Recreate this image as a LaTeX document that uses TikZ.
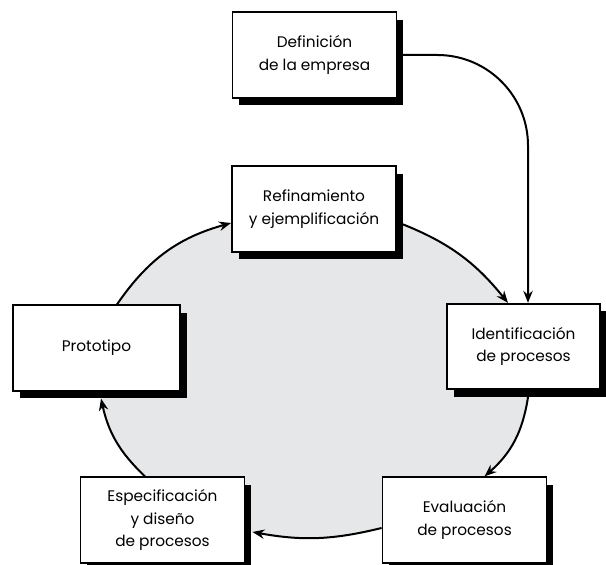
\documentclass[tikz,border=0pt]{standalone}
\usepackage{fontspec}
\setmainfont{Poppins}
\usetikzlibrary{calc,arrows.meta,shadows,backgrounds}

\definecolor{cyclegray}{RGB}{230,231,232}

\begin{document}
\begin{tikzpicture}[x=0.75pt, y=0.75pt, font=\fontsize{11.5}{17}\selectfont,
	procbox/.style={draw=black, line width=1.4pt, fill=white, inner sep=0pt,
		minimum width=123pt, minimum height=64pt, align=center,
		drop shadow={shadow xshift=5pt, shadow yshift=-5.5pt, opacity=1, fill=black}},
	flow/.style={line width=1.5pt, -{Stealth[length=9pt,width=7pt]}}]
	\useasboundingbox (0,0) rectangle (606,564);
	\node[procbox] (def) at (314.5,509) {Definición\\de la empresa};
	\node[procbox] (ref) at (314,355) {Refinamiento\\y ejemplificación};
	\node[procbox, minimum width=125pt] (proto) at (96.5,216) {Prototipo};
	\node[procbox, minimum width=115pt] (ident) at (523.5,217.5) {Identificación\\de procesos};
	\node[procbox] (espec) at (162.5,44) {Especificación\\y diseño\\de procesos};
	\node[procbox] (eval) at (464.5,44) {Evaluación\\de procesos};
	\coordinate (a1) at ($(proto.north)+(20.5,0)$);
	\coordinate (a2) at ($(ref.west)+(0,-14)$);
	\coordinate (b1) at ($(ref.east)+(0,-13)$);
	\coordinate (b2) at ($(ident.north)+(-15.5,0)$);
	\coordinate (c1) at ($(ident.south)+(4.5,-7)$);
	\coordinate (c2) at ($(eval.north)+(20,0)$);
	\coordinate (d1) at ($(eval.west)+(0,-8)$);
	\coordinate (d2) at ($(espec.east)+(7,-12)$);
	\coordinate (e1) at ($(espec.north)+(-17.5,0)$);
	\coordinate (e2) at ($(proto.south)+(4.5,-7)$);
	\begin{scope}[on background layer]
		\fill[cyclegray] (a1) to[bend left=20] (a2) -- (b1) to[bend left=15] (b2)
			-- (c1) to[bend left=20] (c2) -- (d1) to[bend left=12] (d2)
			-- (e1) to[bend left=17] (e2) -- cycle;
	\end{scope}
	\draw[flow] (a1) to[bend left=20] (a2);
	\draw[flow] (b1) to[bend left=15] (b2);
	\draw[flow] (c1) to[bend left=20] (c2);
	\draw[flow] (d1) to[bend left=12] (d2);
	\draw[flow] (e1) to[bend left=17] (e2);
	\draw[flow, rounded corners=68pt] (def.east) -| ($(ident.north)+(4.5,0)$);
\end{tikzpicture}
\end{document}
